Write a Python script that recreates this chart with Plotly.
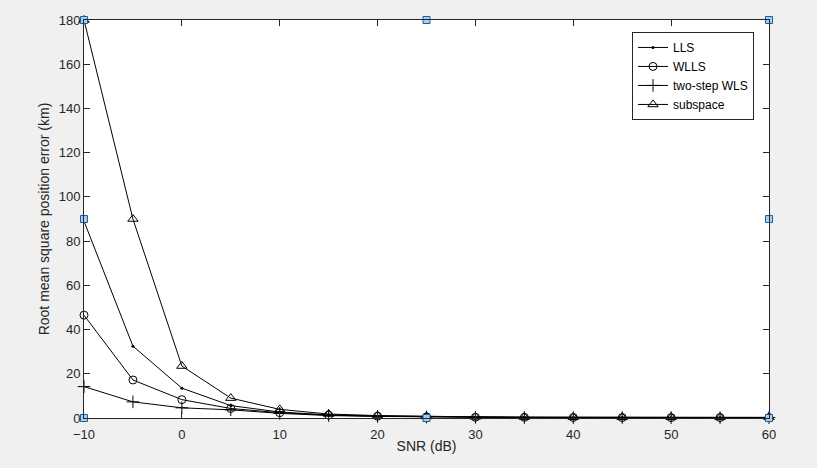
import plotly.graph_objects as go

snr = [-10, -5, 0, 5, 10, 15, 20, 25, 30, 35, 40, 45, 50, 55, 60]
lls = [89, 32.5, 13.5, 5.6, 2.7, 1.4, 0.9, 0.6, 0.4, 0.3, 0.25, 0.2, 0.2, 0.2, 0.2]
wlls = [46.5, 17.2, 8.3, 4.3, 2.4, 1.3, 0.8, 0.5, 0.35, 0.3, 0.25, 0.2, 0.2, 0.2, 0.2]
two_step = [14.2, 7.3, 4.6, 3.7, 2.1, 1.1, 0.7, 0.45, 0.3, 0.25, 0.2, 0.2, 0.2, 0.2, 0.2]
subspace = [180, 90, 23.5, 9.0, 3.9, 1.8, 1.1, 0.7, 0.5, 0.4, 0.35, 0.3, 0.3, 0.3, 0.3]

handle_x = [-10, -10, -10, 25, 60, 60, 60, 25]
handle_y = [0, 90, 180, 180, 180, 90, 0, 0]

ink = "#262626"
font = "Liberation Sans, Arial, sans-serif"

fig = go.Figure()

series = [
    ("LLS", lls, dict(symbol="circle", size=3, color="black")),
    ("WLLS", wlls, dict(symbol="circle-open", size=8, color="black", line=dict(color="black", width=1))),
    ("two-step WLS", two_step, dict(symbol="cross-thin-open", size=9, color="black", line=dict(color="black", width=1))),
    ("subspace", subspace, dict(symbol="triangle-up-open", size=9, color="black", line=dict(color="black", width=1))),
]
for name, ys, mk in series:
    fig.add_trace(go.Scatter(
        x=snr, y=ys, name=name, mode="lines+markers",
        line=dict(color="black", width=1), marker=mk, cliponaxis=False,
    ))

fig.add_trace(go.Scatter(
    x=handle_x, y=handle_y, mode="markers", showlegend=False, hoverinfo="skip",
    marker=dict(symbol="square", size=7, color="#A9CDEE", line=dict(color="#1A60A0", width=1)),
    cliponaxis=False,
))

axis_common = dict(
    showgrid=False, zeroline=False, showline=True, linecolor=ink, linewidth=1,
    mirror="ticks", ticks="inside", ticklen=6, tickcolor=ink, tickwidth=1,
    tickfont=dict(family=font, size=13, color=ink),
)

fig.update_layout(
    width=817, height=468,
    paper_bgcolor="#F0F0F0", plot_bgcolor="white",
    margin=dict(l=84, r=48, t=20, b=50),
    font=dict(family=font, color=ink),
    xaxis=dict(range=[-10, 60], tickmode="array", tickvals=list(range(-10, 61, 10)),
               ticklabelstandoff=4,
               title=dict(text="SNR (dB)", font=dict(family=font, size=14, color=ink), standoff=0),
               **axis_common),
    yaxis=dict(range=[0, 180], tickmode="array", tickvals=list(range(0, 181, 20)),
               title=dict(text="Root mean square position error (km)", font=dict(family=font, size=14, color=ink), standoff=5),
               **axis_common),
    legend=dict(x=0.8, y=0.97, xanchor="left", yanchor="top", bgcolor="white",
                bordercolor=ink, borderwidth=1, font=dict(family=font, size=12, color="black"),
                tracegroupgap=0, itemwidth=30),
    showlegend=True,
)

fig.write_html("out.html", config={"displayModeBar": False},
               post_script="document.body.style.margin='0';")
